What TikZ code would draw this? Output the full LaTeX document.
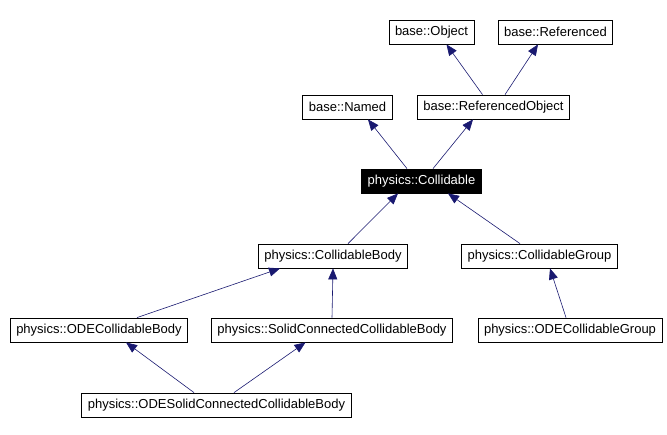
\documentclass[tikz,border=0pt]{standalone}
\usepackage{fontspec}
\setmainfont{Liberation Sans}
\usepackage{tikz}
\usetikzlibrary{arrows.meta}
\definecolor{edgeblue}{RGB}{25,25,112}

\begin{document}
\begin{tikzpicture}[x = 1pt , y = -1pt ,
    cls/.style = {draw , line width = 0.8pt , fill = white , inner xsep = 6pt , minimum height = 24pt , font = \fontsize{13}{15}\selectfont},
    cur/.style = {cls , fill = black , text = white},
    inherit/.style = {edgeblue , line width = 0.6pt , -{Triangle[length = 11pt , width = 9pt]}}]
    \useasboundingbox (0,0) rectangle (667,435);
    % Klassen
    \node[cls] (obj) at (431.5,32) {base::Object};
    \node[cls] (refd) at (555.5,32) {base::Referenced};
    \node[cls] (named) at (347.5,107) {base::Named};
    \node[cls] (refobj) at (493.5,107) {base::ReferencedObject};
    \node[cur] (coll) at (421.5,181) {physics::Collidable};
    \node[cls] (cbody) at (333,256) {physics::CollidableBody};
    \node[cls] (cgroup) at (539.5,256) {physics::CollidableGroup};
    \node[cls] (odebody) at (99,330) {physics::ODECollidableBody};
    \node[cls] (solid) at (332,330) {physics::SolidConnectedCollidableBody};
    \node[cls] (odegroup) at (570,330) {physics::ODECollidableGroup};
    \node[cls] (odesolid) at (216.5,405) {physics::ODESolidConnectedCollidableBody};
    % Vererbung
    \draw[inherit] ([xshift = -11pt]refobj.north) -- ([xshift = 15pt]obj.south);
    \draw[inherit] ([xshift = 11.5pt]refobj.north) -- ([xshift = -17.5pt]refd.south);
    \draw[inherit] ([xshift = -14.5pt]coll.north) -- ([xshift = 20.5pt]named.south);
    \draw[inherit] ([xshift = 11.5pt]coll.north) -- ([xshift = -20.5pt]refobj.south);
    \draw[inherit] ([xshift = 15pt]cbody.north) -- ([xshift = -23.5pt]coll.south);
    \draw[inherit] ([xshift = -19.5pt]cgroup.north) -- ([xshift = 26.5pt]coll.south);
    \draw[inherit] ([xshift = 38pt]odebody.north) -- ([xshift = -53pt]cbody.south);
    \draw[inherit] (solid.north) -- (cbody.south);
    \draw[inherit] ([xshift = -4pt]odegroup.north) -- ([xshift = 10.5pt]cgroup.south);
    \draw[inherit] ([xshift = -22.5pt]odesolid.north) -- ([xshift = 27pt]odebody.south);
    \draw[inherit] ([xshift = 17.5pt]odesolid.north) -- ([xshift = -26.5pt]solid.south);
\end{tikzpicture}
\end{document}
